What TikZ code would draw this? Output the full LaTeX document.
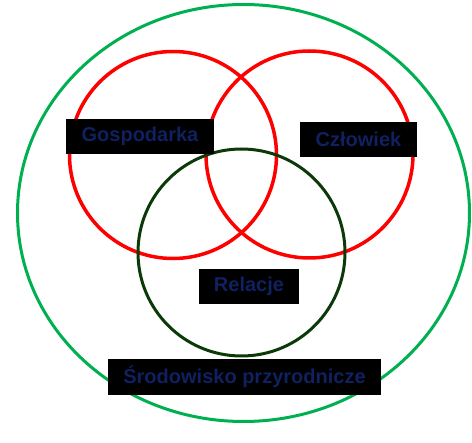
\documentclass[tikz,border=0pt]{standalone}
\usepackage{fontspec}
\setmainfont{Liberation Sans}
\usetikzlibrary{shapes.geometric}
\definecolor{navytext}{HTML}{0F2160}
\definecolor{outergreen}{HTML}{00B050}
\definecolor{darkgreen}{HTML}{0B3A08}
\begin{document}
\begin{tikzpicture}[x=1pt,y=-1pt,
  ring/.style={circle, draw, line width=3.5pt, minimum size=207pt, inner sep=0pt},
  label box/.style={fill=black, text=navytext, inner sep=0pt,
    font=\fontsize{20}{24}\selectfont\bfseries}]
\useasboundingbox (0,0) rectangle (472,443);
\node[ellipse, draw=outergreen, line width=3pt, minimum width=452pt, minimum height=417pt, inner sep=0pt] (env) at (243.5,213) {};
\node[ring, draw=red] (econ) at (173,155) {};
\node[ring, draw=red] (human) at (309.5,154.5) {};
\node[ring, draw=darkgreen, line width=3pt] (rel) at (241.5,252.5) {};
\node[label box, minimum width=148pt, minimum height=35pt] (lecon) at (140,136.5) {Gospodarka};
\node[label box, minimum width=117pt, minimum height=35pt] (lhuman) at (358.5,139.5) {Człowiek};
\node[label box, minimum width=100pt, minimum height=35pt] (lrel) at (249,286.5) {Relacje};
\node[label box, minimum width=273pt, minimum height=36pt] (lenv) at (244.5,377) {Środowisko przyrodnicze};
\end{tikzpicture}
\end{document}
